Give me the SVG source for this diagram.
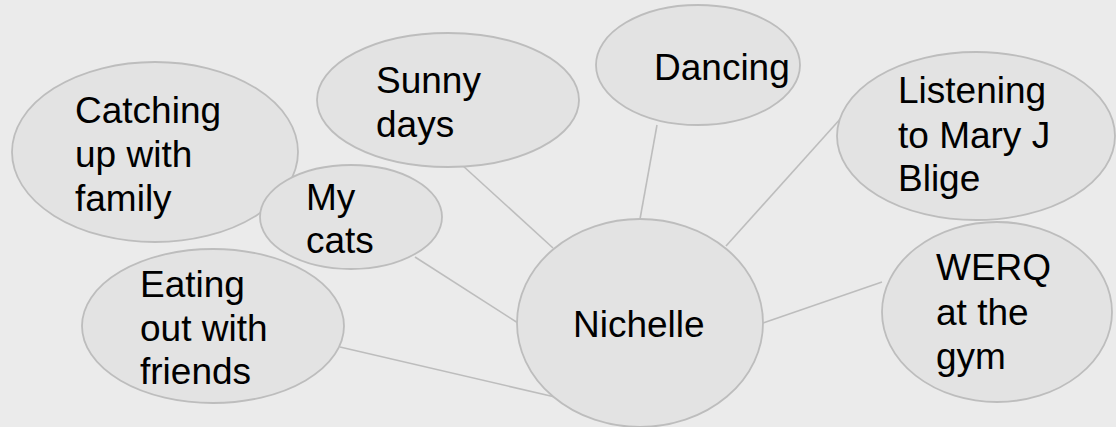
<svg xmlns="http://www.w3.org/2000/svg" width="1116" height="427" viewBox="0 0 1116 427">
<style>
.bg{fill:#ebebeb}
.n{fill:#e3e3e3;stroke:#bdbdbd;stroke-width:1.8}
.c{stroke:#bdbdbd;stroke-width:1.6;fill:none}
text{font-family:"Liberation Sans",Arial,sans-serif;font-size:37px;fill:#000}
</style>
<rect class="bg" x="0" y="0" width="1116" height="427"/>
<g id="connectors">
<line class="c" x1="462" y1="165" x2="553" y2="248"/>
<line class="c" x1="657" y1="125" x2="640" y2="219"/>
<line class="c" x1="842" y1="117" x2="726" y2="246"/>
<line class="c" x1="415" y1="257" x2="518" y2="323"/>
<line class="c" x1="340" y1="347" x2="555" y2="397"/>
<line class="c" x1="763" y1="323" x2="882" y2="282"/>
</g>
<g id="catching">
<ellipse class="n" cx="155" cy="152" rx="143" ry="90"/>
<text x="75" y="123">Catching</text>
<text x="75" y="167">up with</text>
<text x="75" y="211">family</text>
</g>
<g id="sunny">
<ellipse class="n" cx="448" cy="100" rx="131" ry="67"/>
<text x="376" y="93">Sunny</text>
<text x="376" y="137">days</text>
</g>
<g id="dancing">
<ellipse class="n" cx="698" cy="65" rx="102" ry="60"/>
<text x="654" y="80">Dancing</text>
</g>
<g id="listening">
<ellipse class="n" cx="976" cy="136" rx="139" ry="84"/>
<text x="898" y="103">Listening</text>
<text x="898" y="148">to Mary J</text>
<text x="898" y="191">Blige</text>
</g>
<g id="mycats">
<ellipse class="n" cx="351" cy="217" rx="91" ry="52"/>
<text x="306" y="210">My</text>
<text x="306" y="253">cats</text>
</g>
<g id="eating">
<ellipse class="n" cx="213" cy="326" rx="131" ry="77"/>
<text x="140" y="297">Eating</text>
<text x="140" y="341">out with</text>
<text x="140" y="384">friends</text>
</g>
<g id="nichelle">
<ellipse class="n" cx="640" cy="323" rx="123" ry="104"/>
<text x="573" y="337">Nichelle</text>
</g>
<g id="werq">
<ellipse class="n" cx="997" cy="312" rx="115" ry="90"/>
<text x="936" y="280">WERQ</text>
<text x="936" y="325">at the</text>
<text x="936" y="369">gym</text>
</g>
</svg>
